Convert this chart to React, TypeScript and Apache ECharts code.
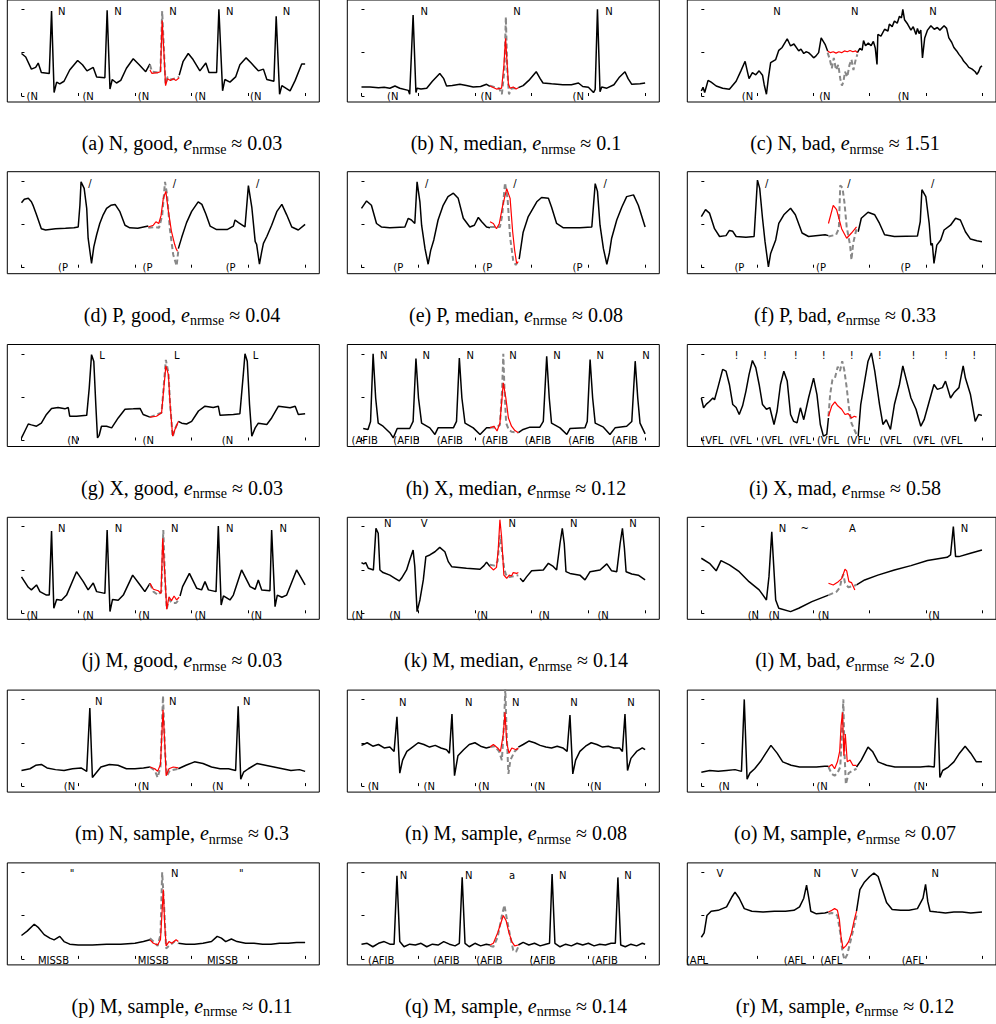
import React, { useEffect, useRef } from "react";
import * as echarts from "echarts";

// ---------- trace values (x: 0..100 tick units, y: 0..100 tick units) ----------
// (a)
const aK1 = [0,49, 1.5,45, 3.5,31, 5,33, 5.9,38, 7,27, 9.8,26, 10.6,98, 11.5,4, 12.4,16, 13.5,14, 15,17, 17,30, 19.8,41, 21.5,36, 23.1,29, 25.3,33, 26.5,22, 29.4,21, 30.2,99, 31.2,8, 32,19, 33.5,15, 35,18, 37,32, 39.4,43, 41.5,36, 43.8,28, 45.3,37];
const aR = [45.3,30, 46,26, 48,27, 49,28, 49.6,87, 50.3,45, 50.8,12, 51.5,20, 52.5,18, 53.5,20, 54.5,18, 55.6,21];
const aG = [45.3,36, 46,28, 48,27, 49,28, 49.6,98, 50.4,40, 50.8,14, 51.5,22, 53,19, 55.6,22];
const aK2 = [55.6,24, 57,40, 58.8,49, 60.5,42, 62.9,29, 65,38, 66.1,27, 68.8,27, 69.6,100, 70.9,6, 71.7,19, 73.5,16, 75.5,22, 77,36, 79.2,44, 81,38, 83.5,29, 85.3,31, 86.5,19, 89,17, 89.8,92, 91,2, 91.8,12, 94.7,6, 96.5,18, 98.8,37, 100,37];
// (b)
const bK1 = [0,10.4, 3,10.5, 6,9.5, 8,10, 10,9, 11.8,11.5, 13.5,9, 16.5,6.5, 17,2, 18.2,93.5, 19.2,4, 19.6,9, 21,8, 23,9, 25,17, 27.6,26, 29,20, 30,11.5, 32,12, 34.7,13.5, 37,12, 39.4,10.4, 42,11, 44.1,13.5, 45.3,11];
const bR = [45.3,11.5, 47.6,8, 49.4,9, 50.2,35, 50.8,66.5, 51.3,40, 51.8,13.5, 52.4,9, 53.5,10.4, 54.5,8, 55.3,9.6];
const bG = [45.3,12, 47,10, 48.5,9, 49.5,2, 50.4,30, 50.9,91, 51.4,30, 52,2, 53,9, 55.3,9];
const bK2 = [55.3,9.6, 57,12, 59,18, 61.6,28, 63,20, 64,15, 67,14, 71,13, 74,13, 76.5,15, 78,11, 80,10, 81.8,4, 82.4,7.7, 83.2,100, 84.1,5, 84.7,10.4, 86.5,9, 89,13, 91,22, 92.9,28, 94,20, 95.3,13.5, 98.2,14, 100,15];
// (c)
const cK1 = [0,5.8, 0.6,10, 1.2,4, 2.4,18, 3.5,16, 5.3,11.5, 7.6,9, 10,7.7, 10.6,10, 12.4,17, 14.1,29, 15.6,40, 16.5,27, 17,20, 18.2,27, 19.4,24.5, 20.6,29, 21.8,24, 22.4,13, 23.2,2, 23.9,21, 24.7,38.5, 26.5,42, 27.6,52.7, 28.8,56, 30.6,66, 31.8,57.7, 33,60, 34.7,52, 35.5,54, 36.5,49, 37.3,51, 38.2,50, 39.2,47, 40,44, 40.8,46, 41.8,50, 42.7,67, 44.1,59.6, 45,52];
const cR = [45,52, 46,50, 47,51, 48,49.5, 49,51, 50,50, 51,52, 52,51, 53,52.5, 54,51, 55,52, 55.6,50];
const cG = [45,50, 45.8,42, 46.5,32, 47.2,44, 48,30, 48.8,36, 49.5,20, 50.1,12, 50.6,16, 51.2,28, 52,22, 52.8,36, 53.5,42, 54.2,30, 55,42, 55.6,48];
const cK2 = [55.6,50, 56.5,55, 57.3,53, 57.8,64, 58.5,58, 59.5,61, 60.5,58, 61.3,63, 62,55, 62.6,36.5, 62.9,71, 64,69, 65.3,77, 66.5,75, 67,83, 68,80, 68.8,86.5, 69.8,84, 70.6,92, 71.3,90, 71.8,100, 72.4,88, 73.5,83, 74.7,76, 75.5,80, 76.5,71, 77,78, 77.6,72, 78.2,76, 78.8,44, 79.6,67, 80.6,76, 81.8,81, 83,77, 84.1,79, 85,76, 86.5,81, 87.4,78, 88.2,67, 89.2,62, 90,56, 91,52, 91.8,48, 92.8,44, 93.5,40, 94.4,37, 95.3,33, 96.5,31, 97.6,28, 98.2,25, 98.8,28, 99.4,33, 100,35];
// (d)
const dK1 = [0,75, 1,79, 2.4,80, 3.5,76, 4.2,71, 5.3,61, 7,45, 8.5,43.5, 12,45, 15.5,45.5, 18.5,46, 20,47, 20.6,72, 21,99, 22.1,91.5, 23,68.5, 23.5,34, 24.7,5, 25.5,24, 26.5,38, 27.6,51, 28.8,61, 30,68.5, 31.5,72, 33,73, 34.7,64.6, 36.5,49, 38.2,46, 41,45.5, 44.7,48];
const dR = [44.7,47, 46.5,49, 47.4,53, 48.4,51, 49.2,60, 50,80, 50.9,88, 51.8,65, 52.9,41.5, 54,27, 54.5,22, 55,19];
const dG = [44.7,46, 47,47, 48.5,46, 49.6,60, 50.6,99, 51.3,85, 52.3,45, 53.5,15, 54.7,2, 55.3,20];
const dK2 = [55.3,22, 56.5,35, 58.2,52, 60,65, 62.3,76, 63.6,73, 65,62, 66.5,48, 68.8,44, 72.5,44, 74.7,48, 75.3,55, 76.5,52, 78.8,47, 80,94.6, 81.2,70, 82.4,30, 82.9,27, 83.9,4, 84.7,18.5, 85.3,28, 86.5,36, 88.2,49, 90,64.6, 91.8,73, 93.5,61, 95.3,47, 97.6,43.5, 100,50];
// (e)
const eK1 = [0,68.5, 1.8,77, 3.5,72, 5.3,51, 7,47, 10,46, 15.3,47, 16.5,57, 17.6,55, 18.8,51, 19.6,99, 20.6,76, 21.2,49, 22.4,22, 23.5,4, 24.4,20, 25.5,32, 27,55, 28.8,72, 30.5,82, 32.4,86, 34.1,80, 35.9,57, 38.2,47, 39.8,49, 41.2,58, 42.4,53, 44.1,47, 45.3,46];
const eR = [45.3,53, 46.5,51, 47.6,45, 48.6,51, 49.8,72, 51.2,91, 52.4,80, 53.3,41.5, 54,20, 54.7,5, 55.3,7];
const eG = [45.3,47, 47,47, 48.8,47, 49.6,60, 50.6,98, 51.5,80, 52.4,35, 53.5,8, 54.4,3, 55.3,8];
const eK2 = [55.6,10, 57,41, 58.8,59, 61.8,76, 63.5,81, 65.9,80, 67,70, 68.8,51, 71.2,46, 77,46, 81.2,47, 82.4,97, 83.2,88, 84.1,49, 85.3,22, 86.5,4, 87.4,17, 88.2,34, 90,55, 91.8,70, 93.5,82, 95.9,84, 97.6,72, 100,47];
// (f)
const fK1 = [0,59, 1.5,67, 2.9,63, 4.7,45, 6.5,36, 8.8,37, 10,43, 11.2,42, 12.4,36, 15.9,35, 18.8,36, 20,101, 20.8,91.5, 21.8,57, 22.7,30, 23.9,1, 24.7,16.5, 26.5,32, 27.6,51, 29.4,61, 31.8,68.5, 33.5,61, 35.9,40, 38.2,36, 44.1,38, 45.3,37];
const fR = [45.3,51, 47,72, 48.2,67, 50,45, 51.8,34, 53.5,40, 55.3,47];
const fG = [45.3,36, 48,38, 49,45, 49.5,95, 50.3,92, 51,75, 51.8,47, 53,26, 53.5,9, 54.1,28, 55.3,45];
const fK2 = [55.9,41.5, 57,57, 59.4,64, 61.8,61, 63.5,51, 65.3,38, 68.8,36, 77,36.5, 78,53, 78.6,90, 80,82, 81.2,51, 81.8,26, 82.3,28, 82.9,5, 83.9,26, 85.3,32, 86.5,43.5, 88.8,49, 90.6,57, 92.3,55, 94.1,41.5, 95.9,33, 98.2,31, 100,30];
// (g)
const gK1 = [0,3, 1.2,11, 2.4,19, 3.5,18, 5.3,16.5, 7,20, 8.8,30, 10.6,37, 12.9,38, 15.3,36.5, 16.5,38, 17,28, 19.4,28, 23,29, 23.9,61, 24.7,99, 25.5,91, 26.2,41.5, 26.8,3, 27.4,6, 28.2,16.5, 30,16.5, 31.8,14.6, 34.1,26, 36.5,36, 39.4,36.5, 41.8,37, 42.9,30, 45.3,27];
const gR = [45.3,27, 47.6,28, 49.4,32, 50.2,61, 50.9,86, 51.8,76, 52.4,41.5, 53.3,5, 54.1,12.7, 55.3,22];
const gG = [45.3,27, 49.4,32, 50.2,65, 50.9,93, 51.8,78, 52.4,42, 53.3,4, 54.1,13, 55.3,22];
const gK2 = [55.3,22, 56.5,20, 58.2,19, 60,22, 62.4,34, 64.7,39.6, 67.6,38, 69.4,39.6, 70,29, 74.7,30, 77,30.8, 78.2,76, 78.8,100, 79.6,91.5, 80.4,41.5, 81.2,5, 82.4,14.6, 83.5,20, 86.5,18.5, 88.2,26, 90.6,39.6, 94.7,37.7, 96.5,39.6, 97.6,30, 100,30.8];
// (h)
const hK1 = [0.6,13.8, 2.3,12.7, 3.2,22, 4.1,100, 5,49, 5.9,20, 7.6,16.5, 10,9, 11.2,3, 12.6,13.8, 17,13.8, 18.2,22, 19.2,94.6, 20.1,49, 21.2,20, 24.1,14.6, 25.9,7, 27,14.6, 32.4,14.6, 33.5,22, 34.5,95, 35.4,49, 36.5,20, 39.4,14.6, 41.8,7, 44.1,14.6, 45.3,14.6];
const hR = [45.3,14.6, 46.7,16.5, 47.8,11, 48.8,20, 50,66.5, 50.9,49, 51.8,26, 52.9,16.5, 54.1,11.5, 55.3,9];
const hG = [45.3,15, 47.6,15, 48.8,18, 49.6,60, 50,100, 50.4,60, 51,20, 52,12, 53,10, 55.3,9];
const hK2 = [55.3,9, 57,12.7, 59.4,15.4, 62.9,15.4, 64.1,22, 65.3,97, 66.2,49, 67,20, 70,14.6, 72.4,7, 73.5,13.8, 78.8,14.6, 79.6,22, 80.6,93.5, 81.5,49, 82.4,20, 85.3,15.4, 87.6,7, 89.4,14.6, 93.5,16.5, 95.3,22, 96.5,91.5, 97.4,49, 98.2,20, 100,7.7];
// (i)
const iK1 = [0,49, 0.8,37.7, 1.8,42, 2.9,45, 4.1,49, 4.7,47, 5.9,61, 7.6,82, 8.8,80, 10,64.6, 11.2,41.5, 12.4,38, 13.5,30, 14.7,40, 15.9,57, 17,76, 18.2,92.3, 19.4,84, 20.6,64.6, 21.8,41.5, 23.2,36, 24.4,38, 25.9,18.5, 27,34, 28.2,64.6, 29.4,80, 30.6,68.5, 31.8,30, 32.9,22, 34.1,20.4, 35.3,37.7, 36.5,24, 38.2,49, 40,72, 41.2,53, 42.4,18.5, 43.5,5, 44.7,7, 45.3,26];
const iR = [45.3,28, 46.5,40, 47.6,44.6, 48.6,40, 50,36, 51.2,30, 52.3,31, 53.5,26, 54.5,28, 55.3,27];
const iG = [45.3,28, 45.9,53, 46.7,70, 47.6,72, 48.6,85, 49.4,80, 50.2,91.5, 50.9,82, 51.8,61, 52.6,37.7, 53.5,20, 54.5,12.7, 55.3,7];
const iK2 = [55.9,5, 56.8,41.5, 58.2,68.5, 59.4,91.5, 60.6,101, 61.8,80, 63.5,41.5, 64.7,18.5, 65.9,24, 67.4,12.7, 68.8,41.5, 70.6,64.6, 71.8,86, 72.9,72, 74.7,49, 76.5,36, 78.2,16.5, 79.4,24, 81.2,45, 82.9,64.6, 84.1,59, 85.9,61, 87,68.5, 88.8,49, 90,55, 91.8,61, 93.3,86, 94.1,72, 95.9,53, 97.6,22, 98.8,30, 100,29];
// (j)
const jK1 = [0,42, 2.4,30, 3.5,27, 5.3,32.7, 6.5,25, 8.8,21, 9.8,21, 10.6,95, 11.4,5.8, 12.4,16, 14.1,15, 15.9,21, 19.4,48, 21.8,36.5, 23.5,27, 25.3,35, 26.5,25, 29.4,23, 30.2,96, 31.2,2, 32.1,16, 34.1,15, 35.9,21, 39.2,44, 41.8,32.7, 43.5,25, 45.3,34.6];
const jR = [45.3,34.6, 46.5,27.7, 48.2,26, 49.2,23, 49.8,86.5, 50.6,42, 51.2,4.6, 52,19, 52.9,14.6, 53.8,20, 54.7,15.4, 55.6,18.5];
const jG = [45.3,34, 46.5,25, 48.2,21, 49.3,25, 50,96, 50.6,40, 51.2,5, 52,16, 53,12, 54.5,12, 55.6,16];
const jK2 = [55.9,20, 56.8,30.8, 59.2,46, 61.8,28.8, 63.5,27, 64.7,36.5, 65.9,27, 68.6,25, 69.4,100.8, 70.4,9.6, 71.2,20, 73.5,15.4, 74.7,21, 77.6,50, 80.6,30.8, 82.4,27.7, 83.5,38.5, 84.7,27, 87.6,26, 88.2,96, 89.4,7.7, 90.2,21, 91.8,18.5, 93.5,21, 97,50, 100,32.7];
// (k)
const kK1 = [0,58.5, 0.8,57, 1.5,58.5, 2.4,52, 3.5,50.8, 4.2,50, 5.1,98, 5.9,92.3, 6.5,50, 7.6,47, 10,44, 11.8,40.4, 13.3,37.3, 14.1,40.4, 15.9,50, 17,61.5, 18.2,73, 18.8,54, 19.6,1.9, 20.6,15.4, 21.8,38.5, 22.7,65.4, 24.1,67.3, 25.9,71, 27.6,76, 29.4,71, 30.6,59.6, 31.8,53.8, 37,52, 41.8,50.8, 43.2,55, 44.1,59, 45.3,54];
const kR = [45.3,54, 46.5,50, 47.6,53, 48.2,73, 48.8,108, 49.4,88, 50.2,44, 51.2,40.4, 52.1,44, 52.9,43, 53.5,47, 54.7,46, 55.3,47];
const kG = [45.3,56, 47,55, 48,60, 48.8,90, 49.6,70, 50.3,52, 50.9,45, 51.5,42, 52.5,42, 55.3,44];
const kK2 = [55.9,40.4, 57,36.5, 58.2,42, 60,49, 64.1,50, 65.9,57.7, 67.6,54, 68.8,50, 70,80.8, 70.8,98, 71.5,80, 72.1,48, 73.5,46, 77,44, 78.8,38.5, 80.6,48, 84.1,50, 86.5,57, 88.2,49, 90,48, 91.2,80.8, 92,98, 92.7,75, 93.3,48, 95.3,45.4, 97.6,44, 100,38.5];
// (l)
const lK1 = [0,63.5, 2.9,57.7, 5.3,49, 7,60.8, 10,55.8, 13.5,48, 17,36.5, 20.6,27, 23.2,15.4, 24.1,42.3, 25.1,94, 25.6,65.4, 26.5,15.4, 27.6,5.8, 31.8,1.9, 34.7,5.8, 39.4,13.5, 45.3,21];
const lR = [45.3,34.6, 47,32.7, 48.8,36.5, 50,40, 51.2,50.8, 51.8,49, 52.6,36.5, 53.5,35.4, 54.7,27];
const lG = [45.3,21, 48.2,25, 49.4,30, 50,40, 50.6,45, 51.2,35, 52.4,30, 54.7,32, 55.3,33];
const lK2 = [55.3,32.7, 58.2,38.5, 62.9,44, 68.8,50, 74.7,55, 80.6,60.8, 87.6,64.6, 88.8,67.3, 89.8,100, 90.6,65.4, 91.8,65.4, 95.9,69.2, 100,73];
// (m)
const mK1 = [0,18, 3,20, 5,24, 7,25, 9,21, 12,19, 15,18, 18,20, 21,21, 23,17, 24.1,90, 25,10, 26,14, 28,22, 31,25, 34,24, 37,20, 40,20, 43,21, 45.3,22];
const mR = [45.3,22, 47,20, 48,17, 49,25, 49.9,88, 50.5,50, 51,12, 52,20, 53.5,22, 55.3,21];
const mG = [45.3,22, 47,18, 48,10, 49,22, 49.9,104, 50.6,40, 51.3,12, 52.3,18, 55.3,20];
const mK2 = [55.3,20, 58,24, 61,28, 64,26, 67,22, 70,20, 73,20, 75.5,18, 76.4,92, 77.3,8, 78.3,16, 80,20, 83,26, 86,24, 89,22, 92,20, 95,18, 98,19, 100,17];
// (n)
const nK1 = [0,47, 2,50, 4,46, 6,48, 8,44, 10,45, 11.5,40, 12.5,80, 13.5,15, 14.5,30, 16,40, 18,45, 20,50, 22,48, 24,45, 26,47, 28,44, 30,42, 31,38, 31.9,83, 32.8,12, 34,35, 36,42, 38,48, 40,50, 42,46, 44,44, 45.3,45];
const nR = [45.3,45, 46.5,48, 48,44, 49,40, 50,60, 50.6,85, 51.2,50, 52,38, 53,44, 54.5,42, 55.3,44];
const nG = [45.3,45, 47,46, 48.5,40, 49.5,30, 50.3,75, 50.7,112, 51.2,60, 51.8,14, 52.5,30, 54,40, 55.3,44];
const nK2 = [55.3,45, 57,48, 59,52, 61,50, 63,47, 65,45, 67,44, 69,46, 71,44, 72.5,40, 73.5,82, 74.5,14, 75.5,30, 77,40, 79,46, 81,50, 83,48, 85,45, 87,46, 89,44, 91,44, 92,40, 92.9,83, 93.8,18, 95,32, 97,40, 99,44, 100,42];
// (o)
const oK1 = [0,16, 3,18, 6,17, 9,18, 12,19, 14.3,17, 15.3,100, 16.3,8, 17.3,15, 19,20, 21,28, 23,38, 24.8,47, 27,38, 29,28, 32,24, 35,22, 38,22, 41,22, 44,23, 45.3,23];
const oR = [45.3,22, 46.5,25, 47.5,20, 48.5,28, 49.3,40, 49.8,70, 50.3,85, 50.8,35, 51.3,60, 52,28, 53,30, 54,24, 55.3,24];
const oG = [45.3,22, 46.5,14, 47.5,12, 48.5,15, 49.5,22, 50.1,60, 50.6,100, 51,40, 51.5,2, 52.5,15, 54,18, 55.3,20];
const oK2 = [55.3,22, 57,30, 59.4,45, 61,40, 63,28, 66,24, 69,22, 72,22, 75,22, 78,22, 81,23, 83,22, 84.1,102, 85,10, 86,18, 88,22, 90,28, 92,38, 94,46, 96,38, 98,28, 100,28];
// (p)
const pK1 = [0,27, 2,32, 4.5,40, 6,36, 8,28, 10,24, 11.5,22, 13.5,26, 15,20, 17,17, 20,16, 25,16, 30,17, 35,17, 40,18, 43,20, 45.3,22];
const pR = [45.3,22, 46.5,18, 48,16, 49,22, 49.5,50, 50,80, 50.5,40, 51,15, 52,20, 53,18, 54.5,22, 55.3,20];
const pG = [45.3,24, 46.5,20, 48,15, 49,28, 49.6,100, 50.3,60, 51,12, 52,15, 54,20, 55.3,18];
const pK2 = [55.3,18, 58,17, 61,17, 64,18, 67,20, 69,26, 70.5,24, 72,20, 74,23, 76,20, 79,18, 82,18, 85,17, 88,17, 91,18, 94,18, 97,19, 100,19];
// (q)
const qK1 = [0,17, 2,18, 4,14, 6,18, 8,20, 10,17, 11.5,17, 12.5,96, 13.5,20, 15,14, 17,17, 19,16, 21,18, 23,14, 25,17, 27,16, 29,20, 31,17, 33,15, 34.5,18, 35.5,94, 36.5,18, 38,14, 40,18, 42,15, 44,17, 45.3,16];
const qR = [45.3,16, 46.5,18, 48,30, 49,40, 50,50, 51,44, 52,30, 53,20, 54,15, 55.3,16];
const qG = [45.3,15, 46.5,14, 48,25, 49.5,50, 50.4,62, 51.3,45, 52.5,25, 53.5,10, 54.5,8, 55.3,14];
const qK2 = [55.3,16, 57,19, 59,16, 61,18, 63,15, 65,17, 66.3,18, 67.2,98, 68.2,18, 70,14, 72,17, 74,15, 76,18, 78,16, 80,18, 82,15, 84,17, 86,16, 88,18, 89.5,18, 90.4,94, 91.4,16, 93,14, 95,17, 97,15, 99,18, 100,17];
// (r)
const rK1 = [0,25, 1,30, 2,50, 3.5,55, 6,56, 9,60, 11,72, 12,77, 13.5,70, 15.3,58, 18,55, 22,54, 26,55, 30,55, 33,56, 35,60, 36.5,70, 37.5,85, 38.3,70, 39,55, 41,52, 44,53, 45.3,54];
const rR = [45.3,54, 46.5,56, 47.5,58, 48.5,56, 49.2,45, 49.8,25, 50.5,12, 51.5,15, 52.5,20, 53.5,30, 54.5,45, 55.3,55];
const rG = [45.3,52, 46.5,53, 47.5,52, 48.5,50, 49.5,30, 50.3,8, 51,-1, 52,5, 53.5,25, 55.3,50];
const rK2 = [55.3,55, 56.5,80, 58,88, 60,95, 61.5,99, 63,95, 64.5,80, 66,65, 68,57, 71,56, 74,56, 77,58, 79,70, 79.9,86, 80.7,66, 81.5,55, 84,54, 87,53, 90,54, 93,54, 96,53, 100,54];

// ---------- annotation labels: [x, y, text] (x = left edge) ----------
const aTop = [[12.9,98,"N"],[32.7,98,"N"],[52.1,98,"N"],[72.1,98,"N"],[92.1,98,"N"]];
const aBot = [[1.8,-1,"(N"],[21.5,-1,"(N"],[41,-1,"(N"],[61,-1,"(N"],[80.6,-1,"(N"]];
const bTop = [[20.8,97,"N"],[53.5,97,"N"],[85.9,97,"N"]];
const bBot = [[9,-1,"(N"],[42,-1,"(N"],[74.4,-1,"(N"]];
const cTop = [[25.6,97,"N"],[53.3,97,"N"],[81.2,97,"N"]];
const cBot = [[14.4,-1,"(N"],[42,-1,"(N"],[70,-1,"(N"]];
const dTop = [[23.5,97,"/"],[53.3,97,"/"],[82.7,97,"/"]];
const dBot = [[12.9,0,"(P"],[42.7,0,"(P"],[72,0,"(P"]];
const eTop = [[22.4,97,"/"],[53.5,97,"/"],[85.3,97,"/"]];
const eBot = [[11.2,0,"(P"],[42.6,0,"(P"],[74.4,0,"(P"]];
const fTop = [[22.7,97,"/"],[52,97,"/"],[81.8,97,"/"]];
const fBot = [[11.8,0,"(P"],[40.9,0,"(P"],[71,0,"(P"]];
const gTop = [[27.4,98.5,"L"],[53.8,98.5,"L"],[81.5,98.5,"L"]];
const gBot = [[16.1,0,"(N"],[42.7,0,"(N"],[70.6,0,"(N"]];
const hTop = [[6.5,98.5,"N"],[21.5,98.5,"N"],[37,98.5,"N"],[52.1,98.5,"N"],[67.6,98.5,"N"],[82.9,98.5,"N"],[99,98.5,"N"]];
const hBot = [[-3.5,0,"(AFIB"],[11.2,0,"(AFIB"],[26.5,0,"(AFIB"],[42.4,0,"(AFIB"],[57.6,0,"(AFIB"],[72.9,0,"(AFIB"],[88.2,0,"(AFIB"]];
const iTop = [[11.8,98,"!"],[22,98,"!"],[32.9,98,"!"],[42.9,98,"!"],[52.9,98,"!"],[62.9,98,"!"],[74.9,98,"!"],[86.5,98,"!"],[96.5,98,"!"]];
const iBot = [[0,0,"(VFL"],[10,0,"(VFL"],[21.2,0,"(VFL"],[31.2,0,"(VFL"],[41.2,0,"(VFL"],[51.8,0,"(VFL"],[63.5,0,"(VFL"],[75.3,0,"(VFL"],[85.1,0,"(VFL"]];
const jTop = [[12.9,98,"N"],[32.9,98,"N"],[52.7,98,"N"],[72.1,98,"N"],[91,98,"N"]];
const jBot = [[1.8,-2,"(N"],[21.5,-2,"(N"],[41.2,-2,"(N"],[61,-2,"(N"],[80.8,-2,"(N"]];
const kTop = [[7.9,104,"N"],[20.9,104,"V"],[51.8,104,"N"],[73.5,104,"N"],[94.4,104,"N"]];
const kBot = [[-3.5,-2,"(N"],[9.8,-2,"(N"],[40.6,-2,"(N"],[62.4,-2,"(N"],[83.2,-2,"(N"]];
const lTop = [[27.6,98,"N"],[35.3,98,"~"],[52.6,98,"A"],[92.4,98,"N"]];
const lBot = [[16.5,-2,"(N"],[23.9,-2,"(N"],[41.5,-2,"(N"],[80.9,-2,"(N"]];
const mTop = [[25.9,98,"N"],[52,98,"N"],[78.1,98,"N"]];
const mBot = [[14.9,0,"(N"],[41,0,"(N"],[67.2,0,"(N"]];
const nTop = [[13.2,96,"N"],[36.5,96,"N"],[53.1,96,"N"],[73.6,96,"N"],[93.7,96,"N"]];
const nBot = [[2.2,0,"(N"],[21.9,0,"(N"],[41.1,0,"(N"],[60.8,0,"(N"],[80.6,0,"(N"]];
const oTop: any[] = [];
const oBot = [[6.1,0,"(N"],[41,0,"(N"],[75.6,0,"(N"]];
const pTop = [[17,99,"\""],[52.7,99,"N"],[76.7,99,"\""]];
const pBot = [[5.8,-1.5,"MISSB"],[41,-1.5,"MISSB"],[65.4,-1.5,"MISSB"]];
const qTop = [[13.5,96.5,"N"],[36.5,96.5,"N"],[52,96.5,"a"],[69.6,96.5,"N"],[92.6,96.5,"N"]];
const qBot = [[2.3,-1.5,"(AFIB"],[25.3,-1.5,"(AFIB"],[40.5,-1.5,"(AFIB"],[59.2,-1.5,"(AFIB"],[81.1,-1.5,"(AFIB"]];
const rTop = [[5.4,98,"V"],[40,98,"N"],[53.4,98,"V"],[82,98,"N"]];
const rBot = [[-5.5,-1.5,"(AFL"],[29.4,-1.5,"(AFL"],[42.4,-1.5,"(AFL"],[71.4,-1.5,"(AFL"]];

// ---------- captions ----------
const CAPTIONS = [
  "(a) N, good,", "(b) N, median,", "(c) N, bad,",
  "(d) P, good,", "(e) P, median,", "(f) P, bad,",
  "(g) X, good,", "(h) X, median,", "(i) X, mad,",
  "(j) M, good,", "(k) M, median,", "(l) M, bad,",
  "(m) N, sample,", "(n) M, sample,", "(o) M, sample,",
  "(p) M, sample,", "(q) M, sample,", "(r) M, sample,",
];
const ERRORS = ["0.03","0.1","1.51","0.04","0.08","0.33","0.03","0.12","0.58","0.03","0.14","2.0","0.3","0.08","0.07","0.11","0.14","0.12"];

const PANELS = [
  [aK1,aK2,aR,aG,aTop,aBot],[bK1,bK2,bR,bG,bTop,bBot],[cK1,cK2,cR,cG,cTop,cBot],
  [dK1,dK2,dR,dG,dTop,dBot],[eK1,eK2,eR,eG,eTop,eBot],[fK1,fK2,fR,fG,fTop,fBot],
  [gK1,gK2,gR,gG,gTop,gBot],[hK1,hK2,hR,hG,hTop,hBot],[iK1,iK2,iR,iG,iTop,iBot],
  [jK1,jK2,jR,jG,jTop,jBot],[kK1,kK2,kR,kG,kTop,kBot],[lK1,lK2,lR,lG,lTop,lBot],
  [mK1,mK2,mR,mG,mTop,mBot],[nK1,nK2,nR,nG,nTop,nBot],[oK1,oK2,oR,oG,oTop,oBot],
  [pK1,pK2,pR,pG,pTop,pBot],[qK1,qK2,qR,qG,qTop,qBot],[rK1,rK2,rR,rG,rTop,rBot],
] as any[];

const X_TICKS = [0, 20, 40, 60, 80, 100];
const Y_TICKS = [0, 50, 100];

// ---------- layout ----------
const COL_LEFT = [7.3, 347.3, 687.3];
const ROW_TOP = [0, 171.7, 344.5, 517.3, 690.1, 862.9];
const BOX_W = 312;
const BOX_H = 102;
const CAP_X = [182, 516, 845];
const CAP_DY = 143;

function pairs(a: number[]) {
  const o: number[][] = [];
  for (let i = 0; i < a.length; i += 2) o.push([a[i], a[i + 1]]);
  return o;
}

function buildOption() {
  const grid: any[] = [], xAxis: any[] = [], yAxis: any[] = [], series: any[] = [];
  PANELS.forEach((pn, i) => {
    const col = i % 3, row = Math.floor(i / 3);
    grid.push({
      left: COL_LEFT[col], top: ROW_TOP[row], width: BOX_W, height: BOX_H,
      show: true, borderColor: "#000", borderWidth: 1, backgroundColor: "transparent",
    });
    xAxis.push({
      type: "value", gridIndex: i, min: -5, max: 105,
      axisLine: { show: false }, splitLine: { show: false },
      axisLabel: { show: false },
      axisTick: { show: true, inside: true, length: 3, customValues: X_TICKS, lineStyle: { color: "#000", width: 1 } },
    });
    yAxis.push({
      type: "value", gridIndex: i, min: -6.92, max: 110.73,
      axisLine: { show: false }, splitLine: { show: false },
      axisLabel: { show: false },
      axisTick: { show: true, inside: true, length: 3, customValues: Y_TICKS, lineStyle: { color: "#000", width: 1 } },
    });
    const common = { xAxisIndex: i, yAxisIndex: i, symbol: "none", silent: true, animation: false };
    series.push({ ...common, type: "line", data: pairs(pn[0]), lineStyle: { color: "#000", width: 1.5 }, z: 2 });
    series.push({ ...common, type: "line", data: pairs(pn[1]), lineStyle: { color: "#000", width: 1.5 }, z: 2 });
    series.push({ ...common, type: "line", data: pairs(pn[3]), lineStyle: { color: "#888888", width: 2, type: [5, 3] }, z: 3 });
    series.push({ ...common, type: "line", data: pairs(pn[2]), lineStyle: { color: "#ff0000", width: 1.2 }, z: 4 });
  });
  return { animation: false, backgroundColor: "#fff", grid, xAxis, yAxis, series };
}

function buildGraphic(chart: any) {
  const graphic: any[] = [];
  PANELS.forEach((pn, i) => {
    const col = i % 3, row = Math.floor(i / 3);
    [...pn[4], ...pn[5]].forEach((t: any) => {
      const pt = chart.convertToPixel({ xAxisIndex: i, yAxisIndex: i }, [t[0], t[1]]);
      graphic.push({
        type: "text", x: pt[0], y: pt[1], silent: true, z: 10,
        style: {
          text: t[2], fill: "#000", font: "10px 'DejaVu Sans'",
          textAlign: "left", textVerticalAlign: "middle",
        },
      });
    });
    graphic.push({
      type: "text", x: CAP_X[col], y: ROW_TOP[row] + CAP_DY, silent: true,
      style: {
        text: `{t|${CAPTIONS[i]} }{e|e}{s|nrmse}{t| ≈ ${ERRORS[i]}}`,
        textAlign: "center", textVerticalAlign: "middle", fill: "#000",
        rich: {
          t: { fontFamily: "Liberation Serif", fontSize: 20, fill: "#000", color: "#000" },
          e: { fontFamily: "Liberation Serif", fontSize: 20, fontStyle: "italic", fill: "#000", color: "#000" },
          s: { fontFamily: "Liberation Serif", fontSize: 14, padding: [12, 0, 0, 0], fill: "#000", color: "#000" },
        },
      },
    });
  });
  return graphic;
}

export default function App() {
  const ref = useRef<HTMLDivElement>(null);
  useEffect(() => {
    if (!ref.current) return;
    const chart = echarts.init(ref.current, undefined, { renderer: "svg" });
    chart.setOption(buildOption() as any);
    chart.setOption({ graphic: buildGraphic(chart) } as any);
    return () => chart.dispose();
  }, []);
  return <div ref={ref} style={{ position: "absolute", left: 0, top: 0, width: 996, height: 1024 }} />;
}
